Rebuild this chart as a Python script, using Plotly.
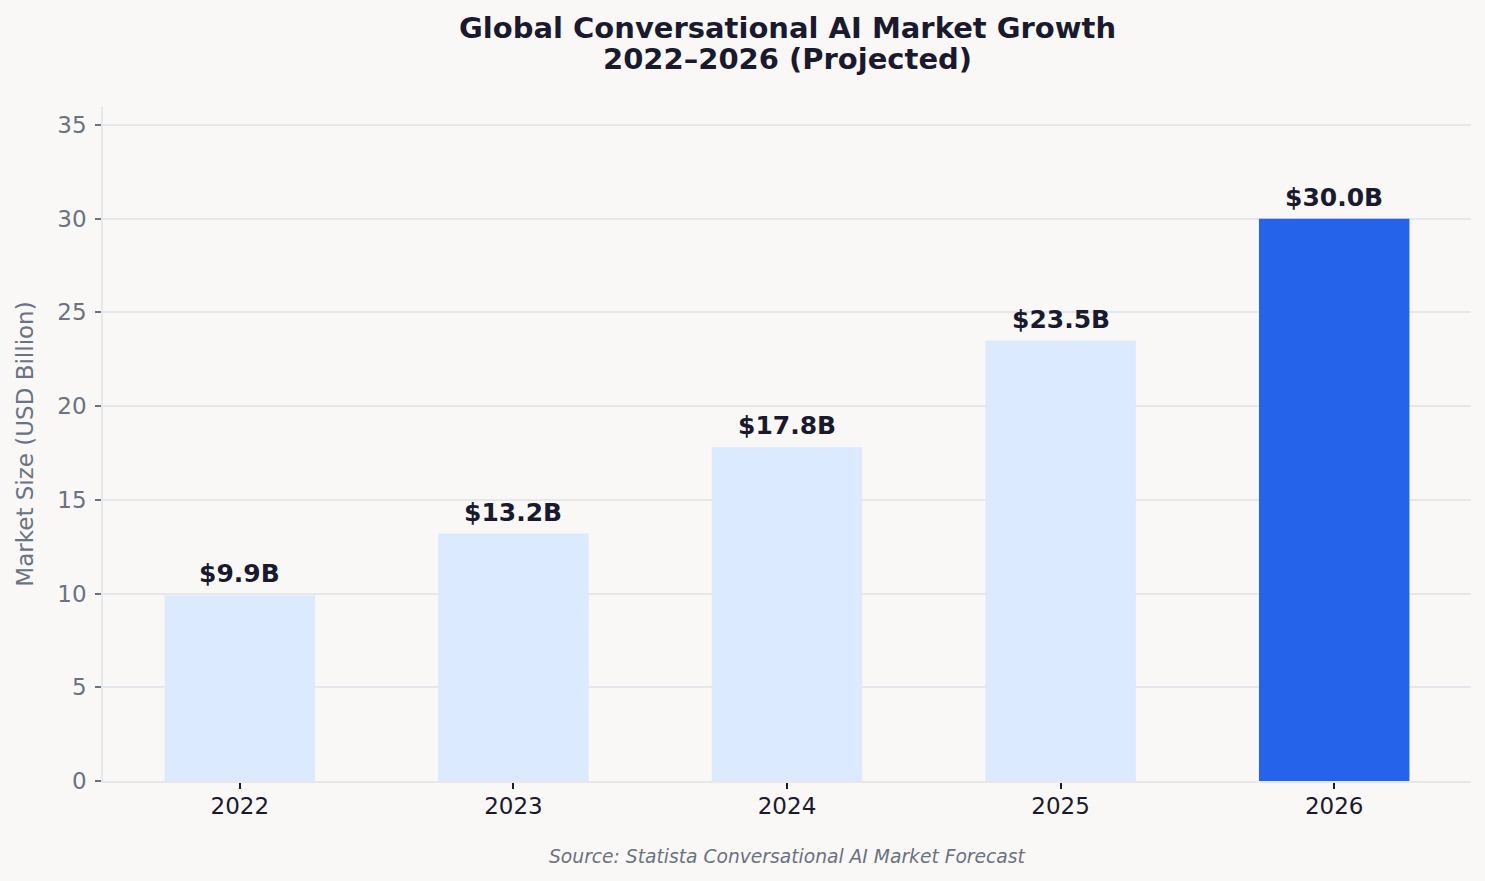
import plotly.graph_objects as go

years = ["2022", "2023", "2024", "2025", "2026"]
market_size = [9.9, 13.2, 17.8, 23.5, 30.0]
bar_colors = ["#dbeafe", "#dbeafe", "#dbeafe", "#dbeafe", "#2563eb"]
value_labels = ["$9.9B", "$13.2B", "$17.8B", "$23.5B", "$30.0B"]
y_ticks = [0, 5, 10, 15, 20, 25, 30, 35]

FONT = "DejaVu Sans"
DARK = "#1a1a2e"
GRAY = "#6b7280"
GRID = "#e5e7eb"
BG = "#f9f8f6"

fig = go.Figure()
fig.add_trace(go.Bar(
    x=years, y=market_size, marker=dict(color=bar_colors, line=dict(width=0)),
    width=0.55, hoverinfo="skip", showlegend=False,
))

for i, (v, lab) in enumerate(zip(market_size, value_labels)):
    fig.add_annotation(x=i, y=v, text="<b>" + lab + "</b>", showarrow=False,
                       xref="x", yref="y",
                       yanchor="bottom", yshift=5,
                       font=dict(family=FONT, size=25, color=DARK))

fig.add_annotation(xref="paper", yref="paper", x=0.5, y=1.0, yshift=79,
                   text="<b>Global Conversational AI Market Growth</b>",
                   showarrow=False, yanchor="middle", xanchor="center",
                   font=dict(family=FONT, size=29, color=DARK))
fig.add_annotation(xref="paper", yref="paper", x=0.5, y=1.0, yshift=48,
                   text="<b>2022–2026 (Projected)</b>",
                   showarrow=False, yanchor="middle", xanchor="center",
                   font=dict(family=FONT, size=29, color=DARK))

fig.add_annotation(xref="paper", yref="paper", x=0.5, y=0, yshift=-75,
                   text="<i>Source: Statista Conversational AI Market Forecast</i>",
                   showarrow=False, yanchor="middle", xanchor="center",
                   font=dict(family=FONT, size=18.7, color=GRAY))

fig.update_layout(
    width=1485, height=881,
    margin=dict(l=103, r=14, t=107, b=100),
    paper_bgcolor=BG, plot_bgcolor=BG,
    font=dict(family=FONT),
)
fig.update_xaxes(
    type="category", range=[-0.5, 4.5],
    showgrid=False, showline=True, linecolor=GRID, linewidth=1.5,
    ticks="outside", ticklen=6, tickwidth=1.5, tickcolor=DARK,
    ticklabelstandoff=-2,
    tickfont=dict(family=FONT, size=23, color=DARK),
    zeroline=False,
)
fig.update_yaxes(
    range=[0, 35.96], tickvals=y_ticks,
    showgrid=True, gridcolor=GRID, gridwidth=1.5,
    showline=True, linecolor=GRID, linewidth=1.5,
    ticks="outside", ticklen=6, tickwidth=1.5, tickcolor=GRAY,
    ticklabelstandoff=4,
    tickfont=dict(family=FONT, size=23, color=GRAY),
    title=dict(text="Market Size (USD Billion)", font=dict(family=FONT, size=23, color=GRAY), standoff=17),
    zeroline=False,
)

fig.write_html("out.html")
